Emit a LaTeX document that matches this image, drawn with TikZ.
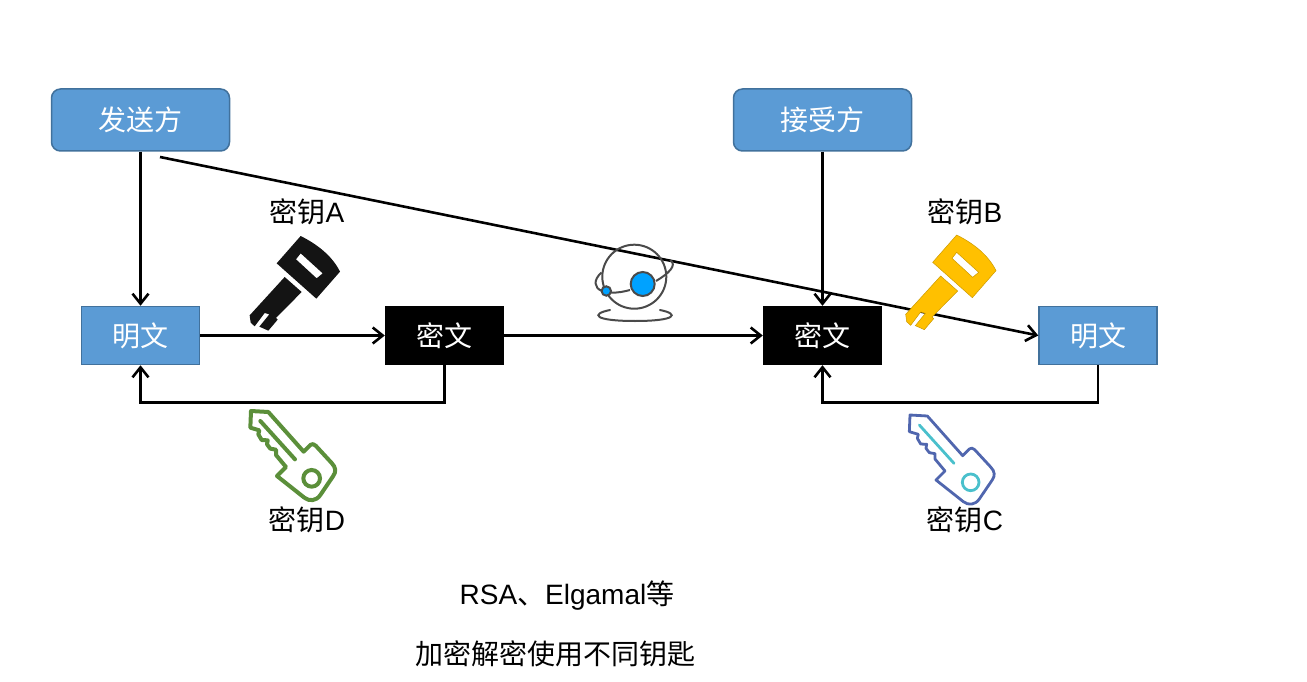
\documentclass[tikz,border=0pt]{standalone}
\usepackage{fontspec}
\setmainfont{Liberation Sans}
\newfontfamily\cjk{Noto Sans CJK SC}
\usepackage{tikz}
\usetikzlibrary{arrows.meta}

\tikzset{
	pics/solidkey/.style={code={
		\begin{scope}[scale=1/3]
			\path[pic actions, even odd rule] (200,45) .. controls (250,70) and (295,105) .. (318,152) -- (247,233) -- (128,127) -- cycle
				(200,97) -- (266,157) -- (248,172) -- (186,115) -- cycle;
			\path[pic actions] (152,168) -- (203,213) -- (126,291) -- (131,296) -- (103,329) -- (76,317) -- (106,280) -- (92,276) -- (62,316) -- (50,305) -- (47,283) -- cycle;
		\end{scope}
	}},
	pics/linekey/.style 2 args={code={
		\begin{scope}[scale=1/3]
			\draw[#1, line join=round] (30,30) -- (82,33) -- (188,152) -- (208,132) .. controls (213,128) and (218,128) .. (224,134)
				-- (272,186) .. controls (285,200) and (286,212) .. (276,226) -- (238,282) .. controls (226,300) and (205,302) .. (190,290)
				-- (108,225) -- (135,198) -- (105,162) -- (105,146) -- (88,143) -- (78,130) -- (80,118) -- (62,117) -- (52,100) -- (55,88) -- (28,80) -- cycle;
			\draw[#2, line cap=round] (58,60) -- (162,175);
			\draw[#2] (212,232) circle (25);
		\end{scope}
	}}
}

\begin{document}
\begin{tikzpicture}[x=1pt, y=-1pt,
				party/.style={rectangle, rounded corners=9pt, draw=boxline, line width=1.5pt, fill=boxfill, text=white, minimum width=178pt, minimum height=62pt, inner sep=0pt, font=\fontsize{28}{30}\selectfont\cjk},
				plain/.style={rectangle, draw=boxline, line width=1.5pt, fill=boxfill, text=white, minimum width=118pt, minimum height=58pt, inner sep=0pt, font=\fontsize{28}{30}\selectfont\cjk},
				cipher/.style={rectangle, fill=black, text=white, minimum width=119pt, minimum height=59pt, inner sep=0pt, font=\fontsize{28}{30}\selectfont\cjk},
				label/.style={inner sep=0pt, font=\fontsize{28}{30}\selectfont},
				flow/.style={-{Straight Barb[length=10pt, width=16pt]}, line width=2.6pt}]
	\definecolor{boxfill}{HTML}{5B9BD5}
	\definecolor{boxline}{HTML}{41719C}
	\definecolor{keyyellow}{HTML}{FFC000}
	\definecolor{keygreen}{HTML}{5B8F3A}
	\definecolor{keyblue}{HTML}{5066AE}
	\definecolor{keycyan}{HTML}{4AC0CC}
	\definecolor{planet}{HTML}{00A2FF}
	\definecolor{planetline}{HTML}{4A4A4A}
	\useasboundingbox (0,0) rectangle (1307,682);

	\node[party] (S) at (140.5,120) {发送方};
	\node[party] (R) at (822.5,120) {接受方};
	\node[plain] (P1) at (140.5,335.5) {明文};
	\node[cipher] (C1) at (444.5,335.5) {密文};
	\node[cipher] (C2) at (822.5,335.5) {密文};
	\node[plain] (P2) at (1098,335.5) {明文};
	\coordinate (D) at (160,157);

	\node[label] (KA) at (307,212) {{\cjk 密钥}A};
	\node[label] (KB) at (965,212) {{\cjk 密钥}B};
	\node[label] (KD) at (307,520) {{\cjk 密钥}D};
	\node[label] (KC) at (965,520) {{\cjk 密钥}C};
	\node[label] (T1) at (567,596) {RSA{\cjk 、}Elgamal{\cjk 等}};
	\node[label, font=\fontsize{28}{30}\selectfont\cjk] (T2) at (555,654) {加密解密使用不同钥匙};

	\draw[flow] (S) -- (P1);
	\draw[flow] (R) -- (C2);
	\draw[flow] (P1) -- (C1);
	\draw[flow] (C1) -- (C2);
	\draw[flow] (D) -- (P2.west);
	\draw[flow] (C1.south) -- ++(0,37) -| (P1.south);
	\draw[flow] (P2.south) -- ++(0,37) -| (C2.south);

	% the four keys
	\pic[fill=black!92] at (234,221) {solidkey};
	\pic[fill=keyyellow, draw=keyyellow!80!black, line width=0.5pt] at (890,220) {solidkey};
	\pic[line width=4pt] at (241,401) {linekey={keygreen}{keygreen}};
	\pic[line width=2.8pt] at (900,405) {linekey={keyblue}{keycyan}};

	% planet and its orbit
	\draw[planetline, line width=2pt] (634.3,276.7) circle (32);
	\draw[planetline, line width=2pt] (601.5,272.5) .. controls (593,280) and (594,288) .. (602,291);
	\draw[planetline, line width=2pt] (611,292.5) .. controls (618,293) and (624,291.5) .. (630,290);
	\draw[planetline, line width=2pt] (656,281) .. controls (668,274) and (678,265) .. (670,260);
	\draw[planetline, line width=2pt, fill=planet] (642.7,284) circle (12);
	\draw[planetline, line width=2pt, fill=planet] (606.3,291) circle (4.7);
	\draw[planetline, line width=2pt, line cap=round] (610,310) .. controls (590,314) and (594,321) .. (635,321) .. controls (676,321) and (680,314) .. (660,310);
\end{tikzpicture}
\end{document}
